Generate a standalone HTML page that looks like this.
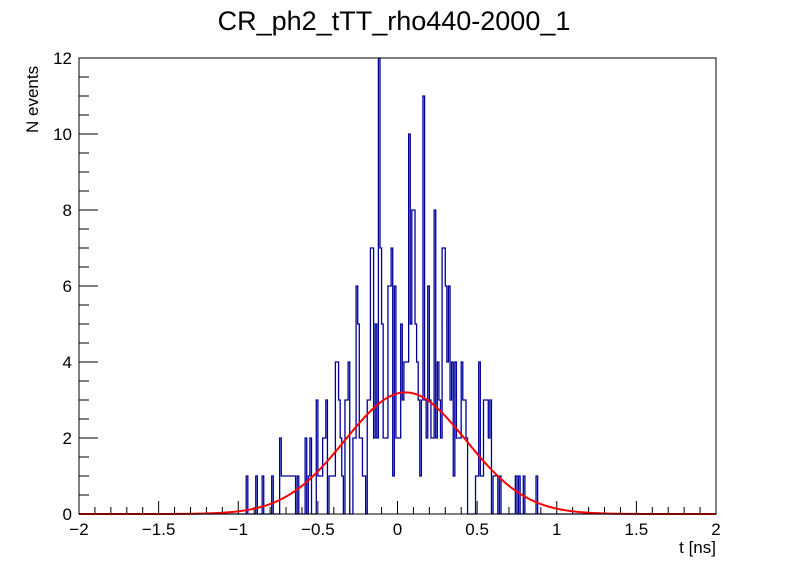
<!DOCTYPE html>
<html><head><meta charset="utf-8"><style>
html,body{margin:0;padding:0;background:#fff;}
svg{display:block;font-family:"Liberation Sans",sans-serif;}
</style></head><body>
<svg id="chart" width="796" height="572" viewBox="0 0 796 572" xmlns="http://www.w3.org/2000/svg">
<rect width="796" height="572" fill="#fff"/>
<text x="394" y="30" font-size="27" text-anchor="middle" fill="#000">CR_ph2_tTT_rho440-2000_1</text>
<text transform="translate(38,133) rotate(-90)" font-size="17" fill="#000">N events</text>
<text x="716" y="553" font-size="17" text-anchor="end" fill="#000">t [ns]</text>
<g id="axes"></g>
<g id="marks"></g>
<rect x="79" y="58" width="637" height="456" fill="none" stroke="#000" stroke-width="1"/>
</svg>
<script>
// histogram bins: width 0.01 ns, first bin starts at t = -1.00 (200 bins)
const binStart = -1.0;
const binWidth = 0.01;
const binCounts = [
0,0,0,0,0,1,0,0,0,0,
0,1,0,0,0,1,0,0,0,0,
0,1,0,0,0,0,2,1,1,1,
1,1,1,1,1,1,0,1,0,0,
0,0,2,0,1,2,0,0,0,3,
1,1,1,2,2,3,0,1,1,1,
1,4,4,3,2,1,0,3,3,4,
0,0,2,2,6,5,2,2,1,1,
0,3,3,7,7,2,5,2,12,7,
5,2,2,2,6,6,7,1,6,2,
2,2,5,3,4,4,4,10,5,8,
8,5,4,3,1,3,11,3,2,6,
3,2,2,8,2,4,3,2,7,7,
6,4,6,3,4,1,4,2,2,2,
4,3,3,2,0,0,0,0,0,1,
1,4,1,1,3,3,3,2,3,0,
1,1,1,0,1,0,0,0,0,0,
0,0,0,0,1,0,1,0,0,1,
0,0,0,0,0,0,0,1,0,0,
0,0,0,0,0,0,0,0,0,0];
// Gaussian fit parameters
const fitAmp = 3.2, fitMean = 0.05, fitSigma = 0.38;
const xTicks = [-2,-1.5,-1,-0.5,0,0.5,1,1.5,2];
const xTickLabels = ["\u22122","\u22121.5","\u22121","\u22120.5","0","0.5","1","1.5","2"];
const yTicks = [0,2,4,6,8,10,12];
const yTickLabels = ["0","2","4","6","8","10","12"];

const X0=79,X1=716,Y0=514,Y1=58,xmin=-2,xmax=2,ymin=0,ymax=12;
const sx=t=>X0+(t-xmin)/(xmax-xmin)*(X1-X0);
const sy=v=>Y0-(v-ymin)/(ymax-ymin)*(Y0-Y1);
const NS="http://www.w3.org/2000/svg";
const axes=document.getElementById('axes'), marks=document.getElementById('marks');
function mk(tag,attrs,parent){const e=document.createElementNS(NS,tag);for(const k in attrs)e.setAttribute(k,attrs[k]);parent.appendChild(e);return e;}

for(let i=0;i<xTicks.length;i++){
  const x=sx(xTicks[i]);
  const t=mk('line',{x1:x,x2:x,y1:Y0,y2:Y0-13,stroke:'#000'},axes);
  
  
  const l=mk('text',{x:x,y:Y0+21,'font-size':17,'text-anchor':'middle',fill:'#000'},axes);
  l.textContent=xTickLabels[i];
  
  
  if(i<xTicks.length-1){
    for(let j=1;j<5;j++){
      const xm=sx(xTicks[i]+j*(xTicks[i+1]-xTicks[i])/5);
      const m=mk('line',{x1:xm,x2:xm,y1:Y0,y2:Y0-7,stroke:'#000'},axes);
      
      
    }
  }
}
for(let i=0;i<yTicks.length;i++){
  const y=sy(yTicks[i]);
  const t=mk('line',{x1:X0,x2:X0+19,y1:y,y2:y,stroke:'#000'},axes);
  
  
  const l=mk('text',{x:X0-7,y:y+6,'font-size':17,'text-anchor':'end',fill:'#000'},axes);
  l.textContent=yTickLabels[i];
  
  
  if(i<yTicks.length-1){
    for(let j=1;j<4;j++){
      const ym=sy(yTicks[i]+j*(yTicks[i+1]-yTicks[i])/4);
      const m=mk('line',{x1:X0,x2:X0+10,y1:ym,y2:ym,stroke:'#000'},axes);
      
      
    }
  }
}
let d='M'+sx(xmin)+','+sy(0)+' L'+sx(binStart).toFixed(2)+','+sy(0);
for(let k=0;k<binCounts.length;k++){
  const v=binCounts[k];
  const t0=binStart+k*binWidth;
  d+=' L'+sx(t0).toFixed(2)+','+sy(v).toFixed(2)+' L'+sx(t0+binWidth).toFixed(2)+','+sy(v).toFixed(2);
}
d+=' L'+sx(binStart+binCounts.length*binWidth).toFixed(2)+','+sy(0)+' L'+sx(xmax)+','+sy(0);
const h=mk('path',{d:d,fill:'none',stroke:'#000099','stroke-width':1.3},marks);


let fd='';
for(let i=0;i<=400;i++){
  const t=xmin+i*(xmax-xmin)/400;
  const v=fitAmp*Math.exp(-Math.pow(t-fitMean,2)/(2*fitSigma*fitSigma));
  fd+=(i?' L':'M')+sx(t).toFixed(2)+','+sy(v).toFixed(2);
}
const f=mk('path',{d:fd,fill:'none',stroke:'#ff0000','stroke-width':2},marks);


</script>
</body></html>
